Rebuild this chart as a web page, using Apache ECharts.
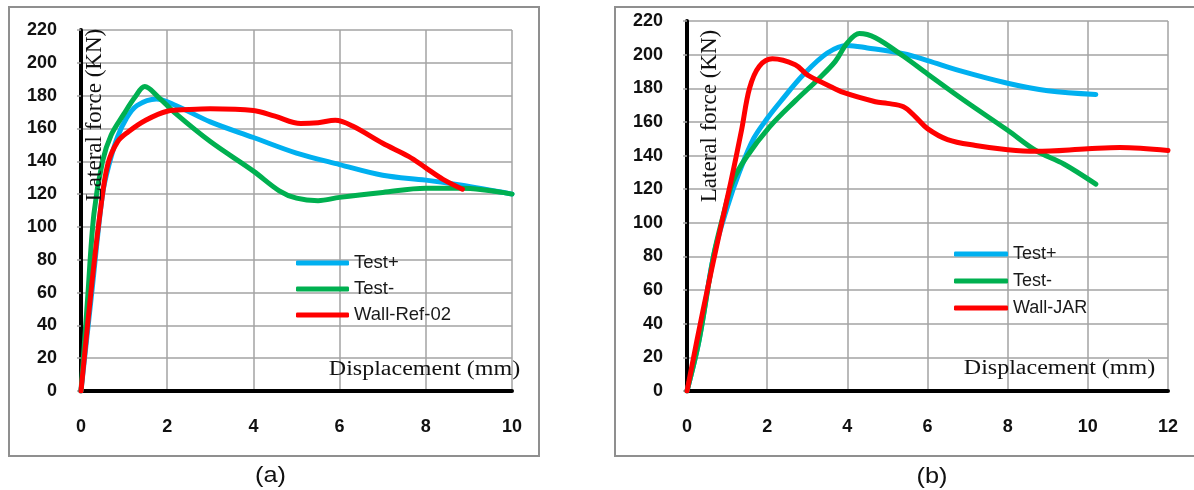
<!DOCTYPE html>
<html>
<head>
<meta charset="utf-8">
<script src="https://cdn.jsdelivr.net/npm/echarts/dist/echarts.min.js"></script>
<style>
  html, body { margin: 0; padding: 0; background: #fff; }
  #chart { width: 1194px; height: 490px; }
</style>
</head>
<body>
<div id="chart"></div>
<script>
// Panel (a): load-displacement curves, tests vs Wall-Ref-02 model
const testPlusA = [[0,0],[0.25,60],[0.5,120],[0.65,138],[0.85,155],[1.05,166],[1.3,174],[1.75,178],[2.2,174],[3,164],[4,154.5],[5,145],[6,138],[7,131.5],[8,128.5],[8.8,125.5],[10,120]];
const testMinusA = [[0,0],[0.15,55],[0.3,108],[0.5,140],[0.7,156],[1.0,169],[1.25,179],[1.48,185.5],[1.8,179],[2.2,169],[3,152],[4,134],[4.6,122],[5,117.5],[5.5,116],[6,118],[7,121],[8,123.5],[8.8,123.5],[10,120]];
const wallRefA = [[0,0],[0.25,65],[0.45,110],[0.62,138],[0.85,152],[1.1,158],[1.5,165],[2,170.5],[2.5,171.5],[3,172],[4,171],[4.5,167.5],[5.1,163],[5.5,163.5],[5.9,165],[6.3,161.5],[7,151],[7.6,143],[8,136],[8.4,129],[8.85,123]];

// Panel (b): load-displacement curves, tests vs Wall-JAR model
const testPlusB = [[0,0],[0.3,30],[0.66,80],[1.0,109],[1.32,131],[1.66,150],[2.0,162],[2.33,172],[2.9,188],[3.5,201],[4.0,205.5],[4.5,204],[5.4,200.5],[6,196.5],[6.8,190.5],[8,183],[9,178.5],[10.2,176.3]];
const testMinusB = [[0,0],[0.3,30],[0.66,80],[0.9,104],[1.15,125],[1.48,139],[2.06,157],[2.7,172.5],[3.3,186],[3.7,196],[4.0,207],[4.3,212.5],[4.7,210],[5.4,199],[6,188.5],[6.9,173],[8,155],[8.7,143],[9.4,135],[10.2,123]];
const wallJarB = [[0,0],[0.4,48],[0.82,95],[1.1,125],[1.36,155],[1.56,180],[1.8,193],[2.13,197.5],[2.7,194],[3.0,188],[3.5,182],[3.9,177.5],[4.7,172],[5.0,171],[5.4,169],[5.7,163],[6.0,156],[6.5,149.5],[7.2,146],[8,143.5],[8.7,142.5],[10,144],[10.8,144.8],[12,143]];

// Axis ranges and titles
const xMaxA = 10, xMaxB = 12, xStep = 2;
const yMax = 220, yStep = 20;
const xTitle = 'Displacement (mm)';
const yTitle = 'Lateral force (KN)';
const namesA = ['Test+', 'Test-', 'Wall-Ref-02'];
const namesB = ['Test+', 'Test-', 'Wall-JAR'];
const captions = ['(a)', '(b)'];

const COLORS = ['#00b0f0', '#00b050', '#ff0000'];
const GRID_COLOR = '#a3a3a3';
const SANS = '"Liberation Sans", Arial, sans-serif';
const SERIF = '"Liberation Serif", "Times New Roman", serif';

function makeX(gi, max) {
  return {
    type: 'value', gridIndex: gi, min: 0, max: max, interval: xStep,
    axisLine: { show: true, onZero: false, lineStyle: { color: '#000', width: 4 } },
    axisTick: { show: false },
    axisLabel: { margin: 27, fontSize: 18, fontWeight: 'bold', color: '#111', fontFamily: SANS },
    splitLine: { show: true, lineStyle: { color: GRID_COLOR, width: 1.5 } }
  };
}
function makeY(gi) {
  return {
    type: 'value', gridIndex: gi, min: 0, max: yMax, interval: yStep,
    axisLine: { show: true, onZero: false, lineStyle: { color: '#000', width: 4 } },
    axisTick: { show: true, length: 4, lineStyle: { color: GRID_COLOR, width: 1.5 } },
    axisLabel: { margin: 24, fontSize: 18, fontWeight: 'bold', color: '#111', fontFamily: SANS },
    splitLine: { show: true, lineStyle: { color: GRID_COLOR, width: 1.5 } }
  };
}
function makeLine(name, data, idx, color) {
  return {
    type: 'line', name: name, data: data,
    xAxisIndex: idx, yAxisIndex: idx,
    showSymbol: false, symbol: 'none', smooth: 0.35,
    lineStyle: { color: color, width: 5, cap: 'round', join: 'round' },
    itemStyle: { color: color },
    emphasis: { disabled: true }
  };
}
function makeLegend(names, left, top, gap, iconW, fontSize) {
  return {
    orient: 'vertical', left: left, top: top, padding: 0,
    itemGap: gap, itemWidth: iconW, itemHeight: 5, icon: 'roundRect',
    selectedMode: false,
    data: names,
    textStyle: { fontFamily: SANS, fontSize: fontSize, color: '#1a1a1a' }
  };
}

const chart = echarts.init(document.getElementById('chart'), null, { renderer: 'canvas' });

chart.setOption({
  animation: false,
  backgroundColor: '#fff',
  grid: [
    { left: 81, top: 30, width: 431, height: 361 },
    { left: 687, top: 21, width: 481, height: 370 }
  ],
  xAxis: [makeX(0, xMaxA), makeX(1, xMaxB)],
  yAxis: [makeY(0), makeY(1)],
  legend: [
    makeLegend(namesA, 296, 253.5, 7, 53, 18.5),
    makeLegend(namesB, 954, 245, 9, 54, 18)
  ],
  series: [
    makeLine(namesA[0], testPlusA, 0, COLORS[0]),
    makeLine(namesA[1], testMinusA, 0, COLORS[1]),
    makeLine(namesA[2], wallRefA, 0, COLORS[2]),
    makeLine(namesB[0], testPlusB, 1, COLORS[0]),
    makeLine(namesB[1], testMinusB, 1, COLORS[1]),
    makeLine(namesB[2], wallJarB, 1, COLORS[2])
  ],
  graphic: [
    // panel frames
    { type: 'rect', z: -10, shape: { x: 9, y: 7, width: 530, height: 449 },
      style: { fill: 'none', stroke: '#8f8f8f', lineWidth: 2 } },
    { type: 'rect', z: -10, shape: { x: 615, y: 7, width: 600, height: 449 },
      style: { fill: 'none', stroke: '#8f8f8f', lineWidth: 2 } },
    // axis titles drawn inside the plot areas
    { type: 'text', z: 20, x: 424.5, y: 370, scaleX: 1.2,
      style: { text: xTitle, font: '20px ' + SERIF, fill: '#111', align: 'center', verticalAlign: 'middle' } },
    { type: 'text', z: 20, x: 1059.5, y: 369, scaleX: 1.2,
      style: { text: xTitle, font: '20px ' + SERIF, fill: '#111', align: 'center', verticalAlign: 'middle' } },
    { type: 'text', z: 20, x: 95, y: 115, rotation: Math.PI / 2,
      style: { text: yTitle, font: '23px ' + SERIF, fill: '#111', align: 'center', verticalAlign: 'middle' } },
    { type: 'text', z: 20, x: 710, y: 116, rotation: Math.PI / 2,
      style: { text: yTitle, font: '23px ' + SERIF, fill: '#111', align: 'center', verticalAlign: 'middle' } },
    // captions under the panels
    { type: 'text', x: 270.5, y: 476, scaleX: 1.15,
      style: { text: captions[0], font: '22px ' + SANS, fill: '#111', align: 'center', verticalAlign: 'middle' } },
    { type: 'text', x: 932, y: 477, scaleX: 1.15,
      style: { text: captions[1], font: '22px ' + SANS, fill: '#111', align: 'center', verticalAlign: 'middle' } }
  ]
});
</script>
</body>
</html>
